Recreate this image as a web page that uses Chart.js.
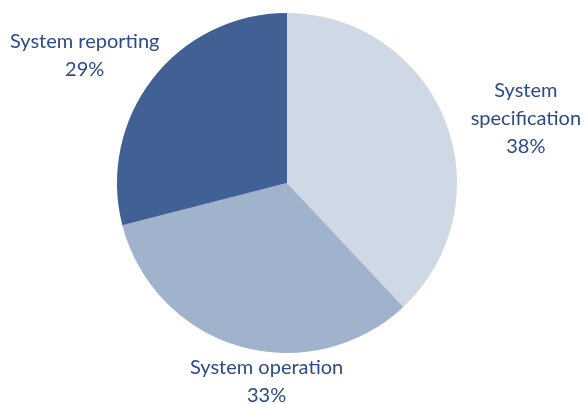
<!DOCTYPE html>
<html>
<head>
<meta charset="utf-8">
<script src="https://cdn.jsdelivr.net/npm/chart.js@4/dist/chart.umd.min.js"></script>
<style>
  html, body { margin: 0; padding: 0; background: #ffffff; }
  #wrap { width: 585px; height: 404px; position: relative; }
</style>
</head>
<body>
<div id="wrap"><canvas id="pie"></canvas></div>
<script>
/* pie of system work shares, labels drawn outside the pie */

const categories = ['System specification', 'System operation', 'System reporting'];
const shares = [38, 33, 29];
const sliceColors = ['#cfd9e6', '#a1b2cc', '#416195'];

// label line breaks and where each label sits relative to the pie centre (in radii)
const labelLines = [['System', 'specification'], ['System operation'], ['System reporting']];
const labelOffsets = [[1.405, -0.38], [-0.12, 1.168], [-1.19, -0.75]];

const outsideLabels = {
  id: 'outsideLabels',
  afterDraw(chart) {
    const ctx = chart.ctx;
    const arc = chart.getDatasetMeta(0).data[0];
    const cx = arc.x, cy = arc.y, r = arc.outerRadius;
    ctx.save();
    ctx.fillStyle = '#2b4b88';
    ctx.font = "20px Lato";
    ctx.textAlign = 'center';
    ctx.textBaseline = 'middle';
    const lh = 28;
    categories.forEach(function(cat, i) {
      const lines = labelLines[i].concat([shares[i] + '%']);
      const x = cx + labelOffsets[i][0] * r;
      const y = cy + labelOffsets[i][1] * r;
      const top = y - (lines.length - 1) * lh / 2;
      lines.forEach(function(t, j) {
        ctx.fillText(t, x, top + j * lh);
      });
    });
    ctx.restore();
  }
};

new Chart(document.getElementById('pie'), {
  type: 'pie',
  data: {
    labels: categories,
    datasets: [{
      data: shares,
      backgroundColor: sliceColors,
      borderWidth: 0,
    }],
  },
  options: {
    responsive: true,
    maintainAspectRatio: false,
    animation: false,
    layout: { padding: { top: 13, bottom: 51, left: 117, right: 128 } },
    plugins: {
      legend: { display: false },
      tooltip: { enabled: false },
    },
  },
  plugins: [outsideLabels],
});
</script>
</body>
</html>
